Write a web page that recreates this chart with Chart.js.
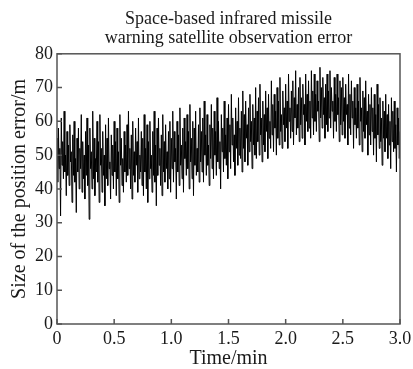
<!DOCTYPE html>
<html>
<head>
<meta charset="utf-8">
<script src="https://cdn.jsdelivr.net/npm/chart.js@4"></script>
<style>
  html, body { margin: 0; padding: 0; background: #fff; }
  #wrap { width: 413px; height: 369px; }
</style>
</head>
<body>
<div id="wrap"><canvas id="chart" width="413" height="369"></canvas></div>
<script>
// Observation error data (one sample every 0.00625 min)
var sampleStep = 0.00625;
var errors = [
  55, 42, 58, 46, 52, 32, 61, 47, 54, 43, 63, 45, 50, 38, 57, 44, 53, 41, 59, 48,
  51, 36, 56, 44, 60, 42, 49, 33, 55, 45, 58, 40, 52, 46, 62, 39, 54, 43, 50, 37,
  57, 44, 61, 41, 53, 31, 58, 46, 51, 40, 63, 43, 55, 38, 49, 45, 60, 42, 54, 36,
  62, 47, 52, 39, 57, 44, 50, 35, 59, 43, 55, 41, 61, 46, 48, 37, 56, 44, 53, 40,
  60, 45, 54, 38, 58, 43, 51, 36, 62, 47, 55, 41, 49, 39, 57, 45, 53, 42, 59, 44,
  63, 46, 52, 40, 56, 37, 60, 44, 51, 42, 58, 47, 54, 39, 61, 43, 50, 45, 57, 41,
  55, 38, 62, 45, 52, 40, 59, 36, 54, 43, 60, 46, 50, 39, 57, 44, 63, 42, 53, 35,
  58, 44, 61, 47, 52, 41, 56, 38, 62, 45, 54, 42, 59, 46, 51, 40, 57, 43, 60, 39,
  55, 46, 63, 42, 57, 48, 52, 37, 60, 45, 56, 41, 64, 47, 53, 43, 58, 39, 61, 49,
  54, 44, 62, 46, 57, 40, 65, 48, 55, 43, 60, 38, 58, 47, 63, 44, 52, 45, 59, 42,
  64, 48, 57, 45, 61, 42, 66, 50, 56, 44, 62, 47, 53, 41, 59, 49, 65, 46, 58, 43,
  63, 50, 57, 44, 67, 48, 60, 46, 54, 40, 62, 51, 58, 45, 66, 49, 56, 47, 61, 43,
  65, 51, 59, 46, 68, 53, 61, 48, 56, 44, 64, 52, 60, 47, 67, 50, 58, 49, 63, 45,
  69, 52, 62, 48, 66, 55, 59, 47, 64, 51, 68, 54, 60, 46, 65, 53, 61, 50, 70, 49,
  63, 54, 67, 50, 71, 56, 61, 48, 66, 53, 62, 51, 69, 57, 64, 49, 68, 55, 60, 52,
  72, 56, 65, 51, 68, 58, 63, 50, 70, 55, 66, 53, 73, 57, 62, 52, 69, 59, 64, 54,
  71, 58, 66, 52, 74, 60, 64, 55, 69, 57, 72, 53, 67, 61, 75, 56, 65, 58, 70, 54,
  73, 59, 67, 55, 71, 62, 65, 53, 74, 60, 68, 57, 72, 58, 66, 55, 75, 61, 69, 56,
  74, 60, 68, 57, 72, 63, 66, 54, 76, 61, 70, 58, 73, 62, 67, 55, 71, 59, 74, 57,
  69, 61, 75, 58, 70, 63, 66, 55, 73, 60, 68, 57, 74, 62, 67, 54, 72, 59, 70, 56,
  73, 60, 67, 55, 71, 62, 65, 53, 74, 58, 68, 56, 72, 61, 66, 52, 70, 59, 64, 55,
  71, 58, 66, 53, 73, 60, 64, 51, 69, 57, 67, 55, 72, 59, 63, 50, 68, 56, 65, 53,
  70, 57, 64, 50, 68, 55, 62, 48, 71, 56, 65, 52, 67, 54, 61, 47, 66, 55, 63, 51,
  68, 55, 62, 49, 65, 53, 60, 46, 67, 54, 63, 51, 66, 52, 59, 45, 64, 53, 61, 49,
  57
];
var xTicks = [0, 0.5, 1.0, 1.5, 2.0, 2.5, 3.0];
var yTicks = [0, 10, 20, 30, 40, 50, 60, 70, 80];
var titleLines = ["Space-based infrared missile", "warning satellite observation error"];

var serif = "'Liberation Serif', 'DejaVu Serif', serif";
var frameColor = "#555";
var textColor = "#1a1a1a";

function buildPoints() {
  var pts = [];
  for (var i = 0; i < errors.length; i++) {
    pts.push({ x: i * sampleStep, y: errors[i] });
  }
  return pts;
}

// frame on top/right plus inward tick marks
var framePlugin = {
  id: "frame",
  afterDraw: function(chart) {
    var ctx = chart.ctx, a = chart.chartArea;
    var xs = chart.scales.x, ys = chart.scales.y;
    ctx.save();
    ctx.strokeStyle = frameColor;
    ctx.lineWidth = 1.5;
    ctx.strokeRect(a.left, a.top, a.right - a.left, a.bottom - a.top);
    ctx.beginPath();
    xTicks.forEach(function(t) {
      var px = xs.getPixelForValue(t);
      ctx.moveTo(px, a.bottom);
      ctx.lineTo(px, a.bottom - 5);
    });
    yTicks.forEach(function(t) {
      var py = ys.getPixelForValue(t);
      ctx.moveTo(a.left, py);
      ctx.lineTo(a.left + 5, py);
    });
    ctx.stroke();
    ctx.restore();
  }
};

var config = {
  type: "line",
  data: {
    datasets: [{
      data: buildPoints(),
      borderColor: "#000",
      borderWidth: 1,
      pointRadius: 0,
      tension: 0,
      fill: false
    }]
  },
  options: {
    responsive: false,
    animation: false,
    layout: { padding: { left: 0, right: 13, top: 0, bottom: 0 } },
    plugins: {
      legend: { display: false },
      tooltip: { enabled: false },
      title: {
        display: true,
        fullSize: false,
        text: titleLines,
        color: textColor,
        font: { family: serif, size: 18, weight: "normal", lineHeight: 1.05 },
        padding: { top: 10, bottom: 6 }
      }
    },
    scales: {
      x: {
        type: "linear",
        min: 0,
        max: 3,
        afterBuildTicks: function(scale) {
          scale.ticks = xTicks.map(function(v) { return { value: v }; });
        },
        afterFit: function(scale) {
          scale.height = 45;
          scale.paddingRight = 12;
        },
        grid: { display: false, drawTicks: false },
        border: { display: false },
        ticks: {
          color: textColor,
          padding: 4,
          maxRotation: 0,
          font: { family: serif, size: 18 },
          callback: function(v) { return v === 0 ? "0" : v.toFixed(1); }
        },
        title: {
          display: true,
          text: "Time/min",
          color: textColor,
          font: { family: serif, size: 20, lineHeight: 1 },
          padding: { top: 0, bottom: 0 }
        }
      },
      y: {
        min: 0,
        max: 80,
        afterBuildTicks: function(scale) {
          scale.ticks = yTicks.map(function(v) { return { value: v }; });
        },
        afterFit: function(scale) { scale.width = 57; },
        grid: { display: false, drawTicks: false },
        border: { display: false },
        ticks: {
          color: textColor,
          padding: 4,
          font: { family: serif, size: 18 }
        },
        title: {
          display: true,
          text: "Size of the position error/m",
          color: textColor,
          font: { family: serif, size: 20, lineHeight: 1 },
          padding: { top: 10, bottom: 0 }
        }
      }
    }
  },
  plugins: [framePlugin]
};

var chart = new Chart(document.getElementById("chart").getContext("2d"), config);
</script>
</body>
</html>
